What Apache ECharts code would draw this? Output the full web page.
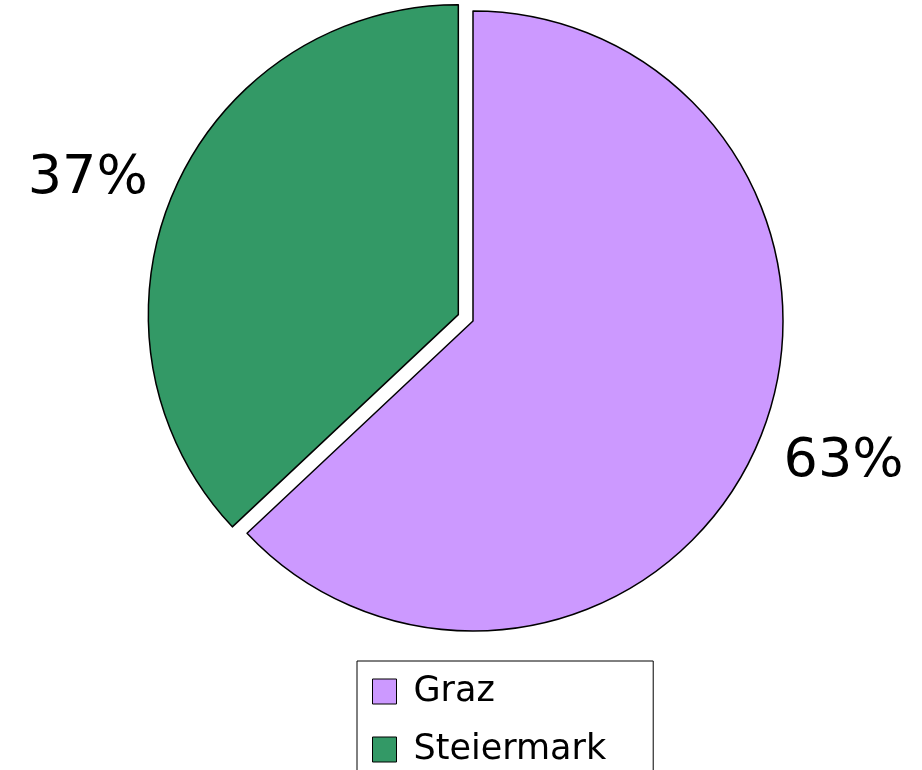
<!DOCTYPE html>
<html>
<head>
<meta charset="utf-8">
<script src="https://cdn.jsdelivr.net/npm/echarts@6/dist/echarts.min.js"></script>
<style>
html,body{margin:0;padding:0;background:#fff;}
#chart{width:922px;height:770px;}
</style>
</head>
<body>
<div id="chart"></div>
<script>
const categories = ['Graz', 'Steiermark'];
const values = [63, 37];
const colors = ['#cc99ff', '#339966'];
const explodedCategory = 'Steiermark';

const chart = echarts.init(document.getElementById('chart'), null, {renderer: 'canvas'});
const seriesData = categories.map((name, i) => ({
  name: name,
  value: values[i],
  selected: name === explodedCategory,
  itemStyle: {color: colors[i]}
}));

chart.setOption({
  backgroundColor: '#ffffff',
  animation: false,
  legend: {
    orient: 'vertical',
    left: 357,
    top: 661,
    height: 200,
    padding: [13, 47, 20, 15],
    itemWidth: 24,
    itemHeight: 25,
    itemGap: 23,
    icon: 'rect',
    selectedMode: false,
    borderColor: '#000',
    borderWidth: 1,
    backgroundColor: '#fff',
    itemStyle: {borderColor: '#000', borderWidth: 1},
    textStyle: {fontFamily: 'DejaVu Sans', fontSize: 35, color: '#000', padding: [0, 0, 0, 12]},
    data: categories
  },
  series: [{
    type: 'pie',
    center: [473, 321],
    radius: 310,
    startAngle: 90,
    clockwise: true,
    selectedMode: 'multiple',
    selectedOffset: 16,
    avoidLabelOverlap: false,
    itemStyle: {borderColor: '#000', borderWidth: 1.5},
    emphasis: {disabled: true},
    label: {
      show: true,
      position: 'outside',
      formatter: '{d}%',
      fontFamily: 'DejaVu Sans',
      fontSize: 54,
      color: '#000'
    },
    labelLine: {show: false, length: 23, length2: 0},
    labelLayout: function (p) {
      return {dy: p.dataIndex === 0 ? 9 : -3};
    },
    data: seriesData
  }]
});
</script>
</body>
</html>
